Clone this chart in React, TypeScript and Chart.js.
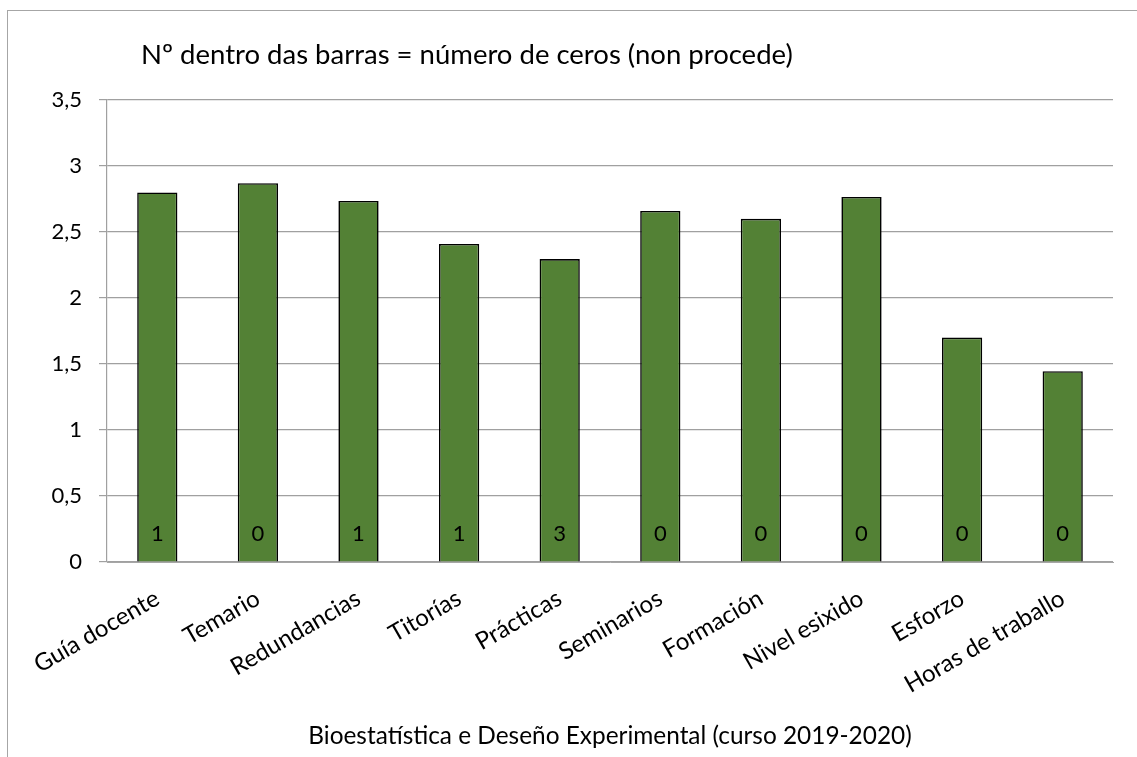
import React, { useEffect, useRef } from "react";
import { Chart, registerables } from "chart.js";

Chart.register(...registerables);

const categories = [
  "Guía docente",
  "Temario",
  "Redundancias",
  "Titorías",
  "Prácticas",
  "Seminarios",
  "Formación",
  "Nivel esixido",
  "Esforzo",
  "Horas de traballo",
];
const meanScores = [2.8, 2.87, 2.735, 2.41, 2.295, 2.66, 2.6, 2.765, 1.7, 1.445];
const zeroCounts = [1, 0, 1, 1, 3, 0, 0, 0, 0, 0];
const titleText = "Nº dentro das barras = número de ceros (non procede)";
const xAxisTitle = "Bioestatística e Deseño Experimental (curso 2019-2020)";

const FONT = "Lato, 'Open Sans', sans-serif";

const insideLabels = {
  id: "insideLabels",
  afterDatasetsDraw(chart: any) {
    const meta = chart.getDatasetMeta(0);
    const ctx = chart.ctx;
    ctx.save();
    ctx.font = `22px ${FONT}`;
    ctx.fillStyle = "#000000";
    ctx.textAlign = "center";
    ctx.textBaseline = "middle";
    meta.data.forEach((bar: any, i: number) => {
      ctx.fillText(String(zeroCounts[i]), bar.x, bar.base - 27);
    });
    ctx.restore();
  },
};

export default function App() {
  const ref = useRef<HTMLCanvasElement | null>(null);

  useEffect(() => {
    if (!ref.current) return;
    const chart = new Chart(ref.current, {
      type: "bar",
      data: {
        labels: categories,
        datasets: [
          {
            data: meanScores,
            backgroundColor: "#538135",
            borderColor: "#000000",
            borderWidth: 1.6,
            barPercentage: 0.4,
            categoryPercentage: 1,
          },
        ],
      },
      options: {
        animation: false,
        responsive: false,
        maintainAspectRatio: false,
        layout: { padding: { top: 100, right: 24, bottom: 0, left: 0 } },
        plugins: {
          legend: { display: false },
          title: { display: false },
          tooltip: { enabled: false },
        },
        scales: {
          x: {
            grid: { display: false, drawTicks: false },
            border: { display: true, color: "#a6a6a6", width: 1 },
            ticks: {
              minRotation: 30,
              maxRotation: 30,
              autoSkip: false,
              padding: 22,
              color: "#000000",
              font: { family: FONT, size: 24 },
            },
            title: {
              display: true,
              text: xAxisTitle,
              color: "#000000",
              font: { family: FONT, size: 24.4 },
              padding: { top: 4, bottom: 6 },
            },
            afterFit: (scale: any) => {
              scale.height = 195;
            },
          },
          y: {
            min: 0,
            max: 3.5,
            ticks: {
              stepSize: 0.5,
              padding: 17,
              color: "#000000",
              font: { family: FONT, size: 22 },
              callback: (v: any) => String(v).replace(".", ","),
            },
            grid: { color: "#a0a0a0", lineWidth: 1.2, tickLength: 8, drawTicks: true },
            border: { display: true, color: "#a0a0a0", width: 1.2 },
            afterFit: (scale: any) => {
              scale.width = 107;
            },
          },
        },
      },
      plugins: [insideLabels],
    });
    return () => chart.destroy();
  }, []);

  return (
    <div style={{ position: "fixed", left: 0, top: 0, width: 1137, height: 757, background: "#ffffff", overflow: "hidden" }}>
      <div
        style={{
          position: "absolute",
          left: 7,
          top: 10,
          width: 1140,
          height: 760,
          borderLeft: "1.5px solid #a6a6a6",
          borderTop: "1.5px solid #a6a6a6",
        }}
      />
      <canvas ref={ref} width={1137} height={757} style={{ position: "absolute", left: 0, top: 0 }} />
      <div
        style={{
          position: "absolute",
          left: 141,
          top: 37,
          fontFamily: FONT,
          fontSize: 27.5,
          lineHeight: "34px",
          color: "#000000",
          whiteSpace: "nowrap",
        }}
      >
        {titleText}
      </div>
    </div>
  );
}
